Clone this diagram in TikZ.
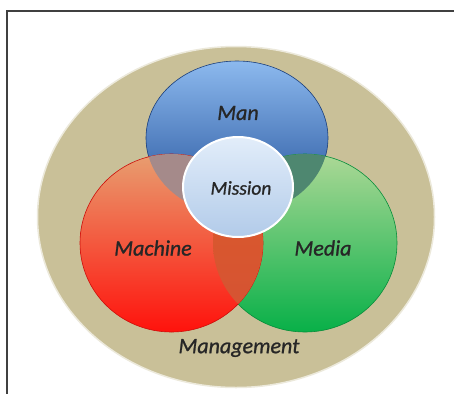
\documentclass[tikz,border=0pt]{standalone}
\usepackage{fontspec}
\setmainfont{Carlito}
\newfontfamily\lblfont[FakeBold=1]{Carlito}
\usepackage{tikz}
\usetikzlibrary{shapes.geometric}

\definecolor{beige}{RGB}{201,192,152}
\definecolor{mantop}{RGB}{140,185,238}
\definecolor{manmid}{RGB}{62,120,202}
\definecolor{manbot}{RGB}{32,78,152}
\definecolor{machtop}{RGB}{232,158,112}
\definecolor{machbot}{RGB}{255,18,12}
\definecolor{medtop}{RGB}{172,216,150}
\definecolor{medbot}{RGB}{8,176,72}
\definecolor{mauve}{RGB}{165,138,138}
\definecolor{teal}{RGB}{78,135,112}
\definecolor{rust}{RGB}{212,82,52}
\definecolor{misstop}{RGB}{226,237,250}
\definecolor{missbot}{RGB}{178,203,233}

\begin{document}
\begin{tikzpicture}[x=1pt,y=-1pt,
  ring/.style 2 args={ellipse,minimum width=#1,minimum height=#2,inner sep=0pt,line width=0.6pt},
  word/.style={font=\lblfont\fontsize{22}{26}\selectfont\itshape,text=black!85}]
\useasboundingbox (0,0) rectangle (454,394);
\fill[white] (0,0) rectangle (454,394);
% frame
\draw [black!75,line width=2pt] (454,11) -- (7,11) -- (7,394);
% management disc
\node [ring={397pt}{341pt},fill=beige,draw=white!65!beige,line width=1.5pt] (mgmt) at (236,217) {};
% the three circles
\node [ring={182pt}{154pt},top color=mantop,middle color=manmid,bottom color=manbot,draw=manbot!80!black] (man) at (237,138) {};
\node [ring={184pt}{178pt},top color=medtop,bottom color=medbot,draw=medbot!80!black] (media) at (305,243) {};
\node [ring={183pt}{178pt},top color=machtop,bottom color=machbot,draw=machbot!80!black] (machine) at (171.5,243) {};
% overlaps
\begin{scope}
\clip (man.center) ellipse (91 and 77);
\fill [mauve] (machine.center) ellipse (91.5 and 89);
\fill [teal] (media.center) ellipse (92 and 89);
\end{scope}
\begin{scope}
\clip (machine.center) ellipse (91.5 and 89);
\shade [top color=rust!80!orange,bottom color=rust] (media.center) ellipse (92 and 89);
\end{scope}
% mission
\node [ring={110pt}{100pt},top color=misstop,bottom color=missbot,draw=white,line width=2pt] (mission) at (238,187) {};
% labels
\node [word] (manlbl) at (238,113) {Man};
\node [word,font=\lblfont\fontsize{19.5}{23}\selectfont\itshape] (misslbl) at (241,188) {Mission};
\node [word] (machlbl) at (153,248) {Machine};
\node [word] (medlbl) at (323,248) {Media};
\node [word] (mgmtlbl) at (239,348) {Management};
\end{tikzpicture}
\end{document}
